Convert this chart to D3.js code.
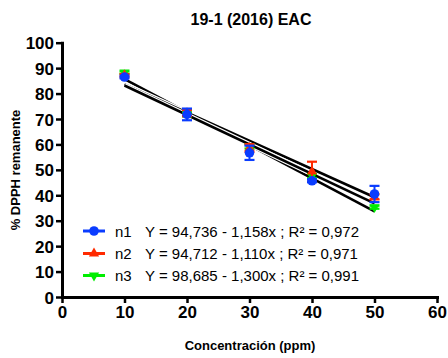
<!DOCTYPE html>
<html>
<head>
<meta charset="utf-8">
<script src="https://cdn.jsdelivr.net/npm/d3@7"></script>
<style>
  html, body { margin: 0; padding: 0; background: #fff; }
  svg { display: block; font-family: Arial, "Liberation Sans", sans-serif; }
</style>
</head>
<body>
<svg id="chart" width="448" height="358"></svg>
<script>
// Concentrations (ppm)
const concentrations = [10, 20, 30, 40, 50];

// Series names and colours
const seriesNames = ["n1", "n2", "n3"];
const seriesColors = ["#0a3cff", "#ff2a00", "#00ee00"];
const seriesSymbols = ["circle", "triangleUp", "triangleDown"];

// Mean % DPPH remaining and error (SD) per series
const n1Values = [86.5, 71.8, 56.7, 45.7, 40.5];
const n1Errors = [0.5, 2.3, 2.8, 0.6, 3.2];
const n2Values = [87.2, 72.3, 58.6, 49.3, 39.4];
const n2Errors = [0.5, 1.2, 1.5, 3.9, 1.0];
const n3Values = [88.3, 71.8, 59.2, 47.6, 35.3];
const n3Errors = [0.5, 0.8, 0.8, 0.8, 0.6];

// Linear fits: Y = intercept - slope * x
const intercepts = [94.736, 94.712, 98.685];
const slopes = [1.158, 1.110, 1.300];
const r2 = [0.972, 0.971, 0.991];

// Axis ticks
const xTicks = [0, 10, 20, 30, 40, 50, 60];
const yTicks = [0, 10, 20, 30, 40, 50, 60, 70, 80, 90, 100];

const title = "19-1 (2016) EAC";
const xTitle = "Concentración (ppm)";
const yTitle = "% DPPH remanente";

const svg = d3.select("#chart");
const fmt = v => v.toFixed(3).replace(".", ",");

const x = d3.scaleLinear().domain([0, 60]).range([62, 437]);
const y = d3.scaleLinear().domain([0, 100]).range([297, 42.7]);

// Title
svg.append("text")
  .attr("x", 251).attr("y", 25)
  .attr("text-anchor", "middle")
  .attr("font-weight", "bold").attr("font-size", 16)
  .text(title);

// Axes
const xAxis = svg.append("g")
  .attr("transform", `translate(0,${y(0)})`)
  .call(d3.axisBottom(x).tickValues(xTicks).tickSizeInner(6).tickSizeOuter(0).tickPadding(3));
const yAxis = svg.append("g")
  .attr("transform", `translate(${x(0)},0)`)
  .call(d3.axisLeft(y).tickValues(yTicks).tickSizeInner(6).tickSizeOuter(0).tickPadding(2));

[xAxis, yAxis].forEach(g => {
  g.select(".domain").attr("stroke", "#000").attr("stroke-width", 3).attr("stroke-linecap", "square");
  g.selectAll(".tick line").attr("stroke", "#000").attr("stroke-width", 2.5);
  g.selectAll(".tick text")
    .attr("fill", "#000")
    .attr("font-family", "Arial, 'Liberation Sans', sans-serif")
    .attr("font-weight", "bold").attr("font-size", 17);
});
yAxis.selectAll(".tick text").attr("dy", "0.36em");

// Axis titles
svg.append("text")
  .attr("x", 250).attr("y", 350)
  .attr("text-anchor", "middle")
  .attr("font-weight", "bold").attr("font-size", 13)
  .text(xTitle);
svg.append("text")
  .attr("transform", `translate(20,170) rotate(-90)`)
  .attr("text-anchor", "middle")
  .attr("font-weight", "bold").attr("font-size", 13)
  .text(yTitle);

const series = [
  { name: seriesNames[0], values: n1Values, errors: n1Errors },
  { name: seriesNames[1], values: n2Values, errors: n2Errors },
  { name: seriesNames[2], values: n3Values, errors: n3Errors }
].map((s, i) => ({ ...s, color: seriesColors[i], symbol: seriesSymbols[i],
  a: intercepts[i], b: slopes[i], r2: r2[i] }));

// Regression lines (white halo under black line)
const fitG = svg.append("g");
series.slice().reverse().forEach(s => {
  const x0 = d3.min(concentrations), x1 = d3.max(concentrations);
  const pts = [[x0, s.a - s.b * x0], [x1, s.a - s.b * x1]];
  fitG.append("line")
    .attr("x1", x(pts[0][0])).attr("y1", y(pts[0][1]))
    .attr("x2", x(pts[1][0])).attr("y2", y(pts[1][1]))
    .attr("stroke", "#fff").attr("stroke-width", 5);
  fitG.append("line")
    .attr("x1", x(pts[0][0])).attr("y1", y(pts[0][1]))
    .attr("x2", x(pts[1][0])).attr("y2", y(pts[1][1]))
    .attr("stroke", "#000").attr("stroke-width", 2.6);
});

function symbolPath(kind, size) {
  if (kind === "circle") return d3.symbol(d3.symbolCircle, size)();
  return d3.symbol(d3.symbolTriangle, size)();
}

// Points with error bars, n3 at the bottom, n1 on top
const ptsG = svg.append("g");
series.slice().reverse().forEach(s => {
  const g = ptsG.append("g");
  concentrations.forEach((c, j) => {
    const cx = x(c), v = s.values[j], e = s.errors[j];
    const yt = y(v + e), yb = y(v - e);
    g.append("line").attr("x1", cx).attr("x2", cx).attr("y1", yt).attr("y2", yb)
      .attr("stroke", s.color).attr("stroke-width", 2);
    [yt, yb].forEach(yy => g.append("line")
      .attr("x1", cx - 5).attr("x2", cx + 5).attr("y1", yy).attr("y2", yy)
      .attr("stroke", s.color).attr("stroke-width", 2.2));
    const rot = s.symbol === "triangleDown" ? 180 : 0;
    g.append("path")
      .attr("d", symbolPath(s.symbol, s.symbol === "circle" ? 72 : 45))
      .attr("transform", `translate(${cx},${y(v)}) rotate(${rot})`)
      .attr("fill", s.color);
  });
});

// Legend
const legY = [231, 253.5, 275.5];
series.forEach((s, i) => {
  const g = svg.append("g").attr("transform", `translate(0,${legY[i]})`);
  g.append("line").attr("x1", 83).attr("x2", 105).attr("y1", 0).attr("y2", 0)
    .attr("stroke", s.color).attr("stroke-width", 3);
  const rot = s.symbol === "triangleDown" ? 180 : 0;
  g.append("path")
    .attr("d", symbolPath(s.symbol, s.symbol === "circle" ? 72 : 45))
    .attr("transform", `translate(94,0) rotate(${rot})`)
    .attr("fill", s.color);
  g.append("text").attr("x", 115).attr("y", 5.5)
    .attr("font-size", 15).text(s.name);
  g.append("text").attr("x", 145).attr("y", 5.5)
    .attr("font-size", 15)
    .text(`Y = ${fmt(s.a)} - ${fmt(s.b)}x ; R² = ${fmt(s.r2)}`);
});
</script>
</body>
</html>
